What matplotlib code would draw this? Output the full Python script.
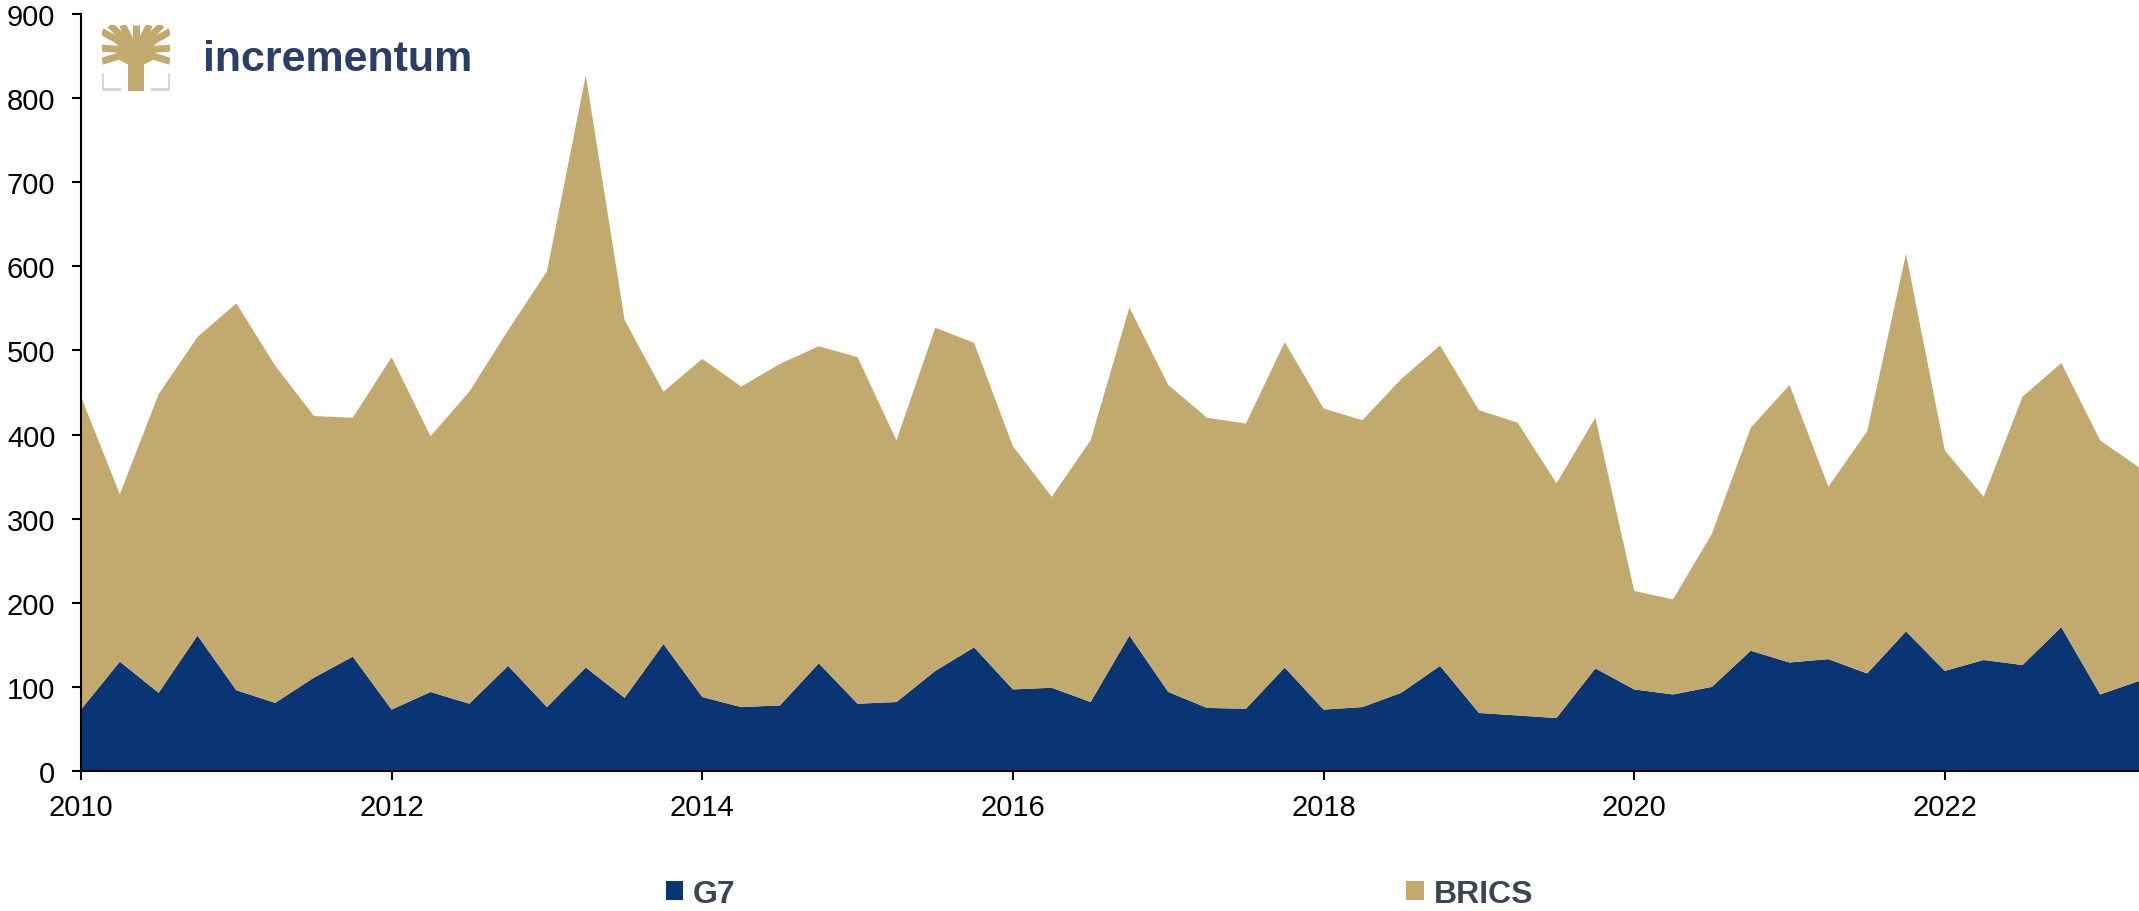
import matplotlib.pyplot as plt
import numpy as np
from matplotlib.patches import Rectangle

plt.rcParams['font.family'] = ['Liberation Sans', 'DejaVu Sans']

# quarterly, 2010 Q1 .. 2023 Q2
start_year = 2010
g7 = [73, 130, 93, 161, 96, 81, 111, 136, 73, 94, 80, 125, 76, 123, 87, 151,
      88, 76, 78, 128, 80, 82, 119, 147, 97, 99, 82, 161, 94, 75, 74, 123,
      73, 76, 93, 125, 69, 66, 63, 122, 97, 91, 100, 143, 129, 133, 116, 166,
      119, 132, 126, 171, 91, 107]
brics = [372, 199, 355, 355, 460, 401, 311, 284, 419, 304, 371, 399, 518, 704, 449, 300,
         402, 381, 406, 377, 412, 311, 408, 362, 289, 227, 311, 390, 365, 345, 339, 387,
         358, 341, 373, 381, 360, 348, 279, 298, 117, 113, 182, 265, 330, 205, 288, 449,
         262, 194, 319, 314, 302, 254]
labels = ["G7", "BRICS"]
colors = ["#0a3575", "#c2a96d"]
year_ticks = [2010, 2012, 2014, 2016, 2018, 2020, 2022]

x = start_year + np.arange(len(g7)) / 4

fig = plt.figure(figsize=(21.39, 9.12), dpi=100)
ax = fig.add_axes([81 / 2139, 1 - 772 / 912, 1 - 81 / 2139, (772 - 15) / 912])
ax.stackplot(x, g7, brics, colors=colors, labels=labels, linewidth=0)

ax.set_xlim(x[0], x[-1])
ax.set_ylim(0, 900)
ax.set_yticks(range(0, 901, 100))
ax.set_xticks(year_ticks)
for s in ["top", "right"]:
    ax.spines[s].set_visible(False)
for s in ["left", "bottom"]:
    ax.spines[s].set_linewidth(1.5)
    ax.spines[s].set_color("black")
ax.tick_params(axis="both", direction="out", length=6.5, width=1.5,
               labelsize=21, colors="black")
ax.tick_params(axis="x", pad=9)
ax.tick_params(axis="y", pad=12)

# legend at bottom
leg = fig.legend(loc="center", bbox_to_anchor=(0.514, 0.0185), ncol=2,
                 frameon=False, handlelength=0.55, handleheight=0.55,
                 handletextpad=0.3, columnspacing=21,
                 prop={"weight": "bold", "size": 23})
for t in leg.get_texts():
    t.set_color("#3a4656")

# logo
fig.text(203 / 2139, 1 - 60 / 912, "incrementum", fontsize=31, fontweight="bold",
         color="#2b3e68", va="center", ha="left")
lax = fig.add_axes([102 / 2139, 1 - 92 / 912, 68 / 2139, 66 / 912])
lax.set_xlim(0, 1)
lax.set_ylim(0, 1)
lax.axis("off")
gold = "#c2a96d"
grey = "#d9d9d9"
lax.add_patch(Rectangle((0.38, 0.0), 0.24, 0.45, color=gold, lw=0))
for ex, ey in [(0.0, 0.9), (0.0, 0.65), (0.12, 1.0), (0.3, 1.0), (0.5, 1.0),
               (0.7, 1.0), (0.88, 1.0), (1.0, 0.65), (1.0, 0.9), (0.0, 0.45), (1.0, 0.45)]:
    lax.plot([0.5, (0.5 + ex) / 2, ex], [0.4, (0.45 + ey) / 2 + 0.08, ey],
             color=gold, lw=5, solid_capstyle="butt")
lax.plot([0.0, 0.0, 0.25], [0.25, 0.02, 0.02], color=grey, lw=3)
lax.plot([1.0, 1.0, 0.75], [0.25, 0.02, 0.02], color=grey, lw=3)

fig.savefig("out.png", dpi=100)
